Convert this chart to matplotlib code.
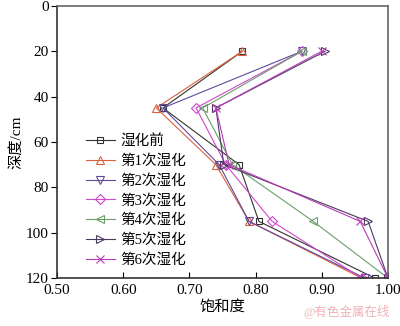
import matplotlib
matplotlib.use("Agg")
import matplotlib.pyplot as plt

plt.rcParams['font.family'] = ['Liberation Serif', 'Noto Sans CJK SC', 'DejaVu Sans']

depth = [20, 45, 70, 95, 120]
labels = ['湿化前', '第1次湿化', '第2次湿化', '第3次湿化', '第4次湿化', '第5次湿化', '第6次湿化']
s0 = [0.78, 0.66, 0.775, 0.805, 0.98]
s1 = [0.78, 0.65, 0.74, 0.79, 0.96]
s2 = [0.87, 0.66, 0.745, 0.79, 0.965]
s3 = [0.87, 0.71, 0.755, 0.825, 0.96]
s4 = [0.87, 0.72, 0.765, 0.887, 1.00]
s5 = [0.905, 0.74, 0.752, 0.97, 1.00]
s6 = [0.90, 0.74, 0.76, 0.958, 1.00]
series = [s0, s1, s2, s3, s4, s5, s6]
xticks = [0.50, 0.60, 0.70, 0.80, 0.90, 1.00]
yticks = [0, 20, 40, 60, 80, 100, 120]

colors = ['#333333', '#d9603b', '#5e4a9a', '#cc48cc', '#6a9e6a', '#4a3a5e', '#b83ab8']
markers = ['s', '^', 'v', 'D', '<', '>', 'x']
msizes = [4.5, 6, 6, 5, 6, 6, 5.5]

fig = plt.figure(figsize=(4.0, 3.26), dpi=100)
ax = fig.add_axes([0.1425, 0.147, 0.8275, 0.835])

for vals, lab, c, m, ms in zip(series, labels, colors, markers, msizes):
    ax.plot(vals, depth, color=c, lw=0.8, marker=m, ms=ms,
            markerfacecolor='none' if m != 'x' else c,
            markeredgecolor=c, markeredgewidth=0.8, label=lab)

ax.set_xlim(0.5, 1.0)
ax.set_ylim(120, 0)
ax.set_xticks(xticks)
ax.set_xticklabels([f'{v:.2f}' for v in xticks])
ax.set_yticks(yticks)
ax.tick_params(axis='x', direction='in', length=4, labelsize=11, pad=4)
ax.tick_params(axis='y', direction='out', length=4, labelsize=11, pad=2)
for side in ['top', 'right']:
    ax.spines[side].set_color('#666666')
    ax.spines[side].set_linewidth(1.2)
for side in ['left', 'bottom']:
    ax.spines[side].set_color('#333333')
    ax.spines[side].set_linewidth(1.2)

ax.set_xlabel('饱和度', fontsize=11, labelpad=2)
ax.set_ylabel('深度/cm', fontsize=11, labelpad=2)

leg = ax.legend(loc='upper left', bbox_to_anchor=(0.06, 0.56), frameon=False,
                fontsize=10.5, handlelength=2.0, handletextpad=0.4,
                labelspacing=0.42, borderpad=0.1)

fig.text(0.975, 0.02, '@有色金属在线', color='#f0b0b8', fontsize=9, ha='right', va='bottom')

fig.savefig('out.png', dpi=100)
